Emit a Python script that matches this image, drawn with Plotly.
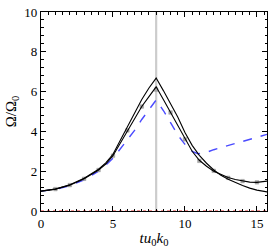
import plotly.graph_objects as go

# Curve A (black, highest peak)
xa = [0, 1, 2, 3, 4, 4.5, 5, 5.5, 6, 6.5, 7, 7.5, 8, 8.5, 9, 9.5, 10, 10.5, 11, 11.5, 12, 12.5, 13, 13.5, 14, 14.5, 15, 15.7]
ya = [1.0, 1.1, 1.32, 1.65, 2.1, 2.42, 2.85, 3.55, 4.25, 4.95, 5.6, 6.18, 6.68, 6.05, 5.4, 4.72, 3.95, 3.3, 2.8, 2.4, 2.06, 1.8, 1.6, 1.43, 1.28, 1.15, 1.05, 0.96]

# Curve B (black, with grey square markers)
xb = [0, 1, 2, 3, 4, 4.5, 5, 5.5, 6, 6.5, 7, 7.5, 8, 8.5, 9, 9.5, 10, 10.5, 11, 11.5, 12, 12.5, 13, 13.5, 14, 14.5, 15, 15.7]
yb = [1.0, 1.1, 1.3, 1.62, 2.06, 2.36, 2.78, 3.4, 4.05, 4.68, 5.25, 5.75, 6.24, 5.6, 4.95, 4.3, 3.6, 3.0, 2.55, 2.25, 2.0, 1.82, 1.68, 1.58, 1.5, 1.45, 1.44, 1.5]

# Markers on curve B
xm = [1, 2, 3, 4, 5, 6, 7, 8, 9, 10, 11, 12, 13, 14, 15]
ym = [1.1, 1.3, 1.62, 2.06, 2.78, 4.05, 5.25, 6.1, 4.95, 3.6, 2.52, 2.02, 1.67, 1.5, 1.44]

# Blue dashed curve
xc = [0, 1, 2, 3, 4, 4.5, 5, 5.5, 6, 6.5, 7, 7.5, 8, 8.5, 9, 9.5, 10, 10.5, 10.9, 11.5, 12, 13, 14, 15, 15.7]
yc = [1.0, 1.08, 1.27, 1.57, 2.0, 2.3, 2.65, 3.1, 3.55, 4.05, 4.6, 5.1, 5.58, 5.05, 4.45, 3.82, 3.35, 3.0, 2.88, 2.95, 3.08, 3.28, 3.5, 3.7, 3.85]

vline_x = 8
hline_y = 0
x_range = [0, 15.7]
y_range = [0, 10]

FONT = "Liberation Serif"

fig = go.Figure()
fig.add_trace(go.Scatter(x=[vline_x, vline_x], y=y_range, mode="lines",
                         line=dict(color="#cccccc", width=2.2), showlegend=False))
fig.add_trace(go.Scatter(x=xc, y=yc, mode="lines",
                         line=dict(color="#4a4aff", width=1.4, dash="dash"), showlegend=False))
fig.add_trace(go.Scatter(x=xm, y=ym, mode="markers",
                         marker=dict(symbol="square", size=3.6, color="#a8a8a8",
                                     line=dict(color="#909090", width=0.4)), showlegend=False))
fig.add_trace(go.Scatter(x=xb, y=yb, mode="lines",
                         line=dict(color="black", width=1.1), showlegend=False))
fig.add_trace(go.Scatter(x=xa, y=ya, mode="lines",
                         line=dict(color="black", width=1.1), showlegend=False))
fig.add_trace(go.Scatter(x=x_range, y=[hline_y, hline_y], mode="lines",
                         line=dict(color="#e03030", width=1, dash="dot"), showlegend=False, cliponaxis=False))

axis_common = dict(showgrid=False, zeroline=False, showline=True, linecolor="black", linewidth=1.2,
                   mirror="ticks", ticks="inside", ticklen=5, tickwidth=1, tickcolor="black",
                   ticklabeloverflow="allow",
                   tickfont=dict(family=FONT, size=13, color="black"))

fig.update_xaxes(range=x_range, tickmode="linear", tick0=0, dtick=5,
                 minor=dict(dtick=0.5, ticks="inside", ticklen=2.5, tickcolor="black", showgrid=False),
                 title=dict(text="<i>tu</i><sub>0</sub><i>k</i><sub>0</sub>", standoff=2,
                            font=dict(family=FONT, size=15, color="black")),
                 **axis_common)
fig.update_yaxes(range=y_range, tickmode="linear", tick0=0, dtick=2,
                 minor=dict(dtick=0.4, ticks="inside", ticklen=2.5, tickcolor="black", showgrid=False),
                 title=dict(text="Ω/Ω<sub>0</sub>", standoff=4,
                            font=dict(family=FONT, size=15, color="black")),
                 **axis_common)

fig.update_layout(width=273, height=248, margin=dict(l=41, r=5, t=6, b=32),
                  font=dict(family=FONT, color="black"), hovermode=False,
                  plot_bgcolor="white", paper_bgcolor="white", showlegend=False)

fig.write_html("out.html", config={"displayModeBar": False, "staticPlot": True},
               post_script="document.body.style.margin='0';document.body.style.overflow='hidden';")
